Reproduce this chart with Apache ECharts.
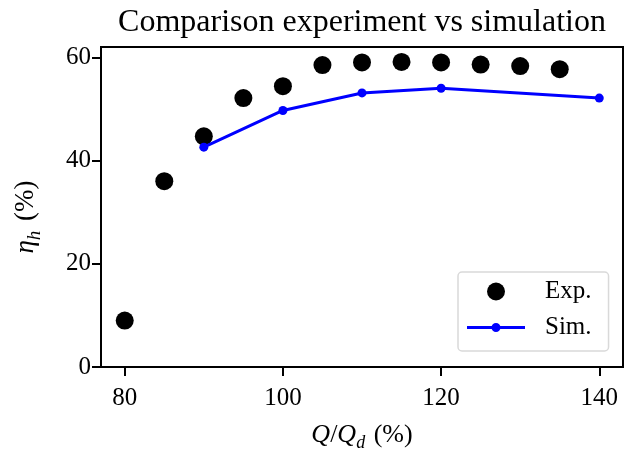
<!DOCTYPE html>
<html>
<head>
<meta charset="utf-8">
<script src="https://cdn.jsdelivr.net/npm/echarts@6/dist/echarts.min.js"></script>
<style>html,body{margin:0;padding:0;background:#fff;}#c{width:629px;height:449px;}</style>
</head>
<body>
<div id="c"></div>
<script>
var expX = [80, 85, 90, 95, 100, 105, 110, 115, 120, 125, 130, 135];
var expY = [9.0, 36.0, 44.7, 52.1, 54.4, 58.5, 59.0, 59.1, 59.0, 58.6, 58.3, 57.7];
var simX = [90, 100, 110, 120, 140];
var simY = [42.6, 49.7, 53.1, 54.0, 52.1];
var xTicks = [80, 100, 120, 140];
var yTicks = [0, 20, 40, 60];

var FONT = 'Liberation Serif';
var SIM_ICON = 'path://M0,3 L58,3 L58,6 L0,6 Z M24.5,4.5 A4.5,4.5 0 1 1 33.5,4.5 A4.5,4.5 0 1 1 24.5,4.5 Z';
var chart = echarts.init(document.getElementById('c'), null, {renderer: 'canvas'});
chart.setOption({
  animation: false,
  backgroundColor: '#fff',
  title: {
    text: 'Comparison experiment vs simulation',
    left: 357, textAlign: 'center', top: 2,
    textStyle: {fontFamily: FONT, fontSize: 32, fontWeight: 'normal', color: '#000'}
  },
  grid: {left: 101, right: 6, top: 47, bottom: 82, outerBoundsMode: 'none', containLabel: false,
         show: true, borderColor: '#000', borderWidth: 2, backgroundColor: 'transparent'},
  legend: {
    left: 458, top: 272,
    orient: 'vertical',
    padding: [7, 17, 11, 9],
    itemWidth: 58, itemHeight: 18, itemGap: 11,
    backgroundColor: '#fff',
    borderColor: '#d9d9d9', borderWidth: 1.5, borderRadius: 4,
    textStyle: {fontFamily: FONT, fontSize: 25, color: '#000', padding: [0, 0, 0, 15]},
    data: [{name: 'Exp.', icon: 'circle'}, {name: 'Sim.', icon: SIM_ICON}]
  },
  xAxis: {
    type: 'value', min: 77, max: 143,
    name: '{i|Q}{n|/}{i|Q}{s|d}{n| (%)}',
    nameLocation: 'middle', nameGap: 55,
    nameTextStyle: {
      rich: {
        i: {fontFamily: FONT, fontStyle: 'italic', fontSize: 26, color: '#000'},
        n: {fontFamily: FONT, fontSize: 26, color: '#000'},
        s: {fontFamily: FONT, fontStyle: 'italic', fontSize: 18, color: '#000', verticalAlign: 'bottom', padding: [0, 2, -4, 0]}
      }
    },
    splitLine: {show: false},
    axisLine: {lineStyle: {color: '#000', width: 2}},
    axisTick: {show: true, length: 9, lineStyle: {color: '#000', width: 2}, customValues: xTicks},
    axisLabel: {fontFamily: FONT, fontSize: 25, color: '#000', margin: 13, lineHeight: 36, customValues: xTicks}
  },
  yAxis: {
    type: 'value', min: 0, max: 62,
    name: '{i|η}{s|h}{n| (%)}',
    nameLocation: 'middle', nameGap: 62, nameRotate: 90,
    nameTextStyle: {
      padding: [0, 20, 0, 0],
      rich: {
        i: {fontFamily: FONT, fontStyle: 'italic', fontSize: 27, color: '#000'},
        n: {fontFamily: FONT, fontSize: 27, color: '#000'},
        s: {fontFamily: FONT, fontStyle: 'italic', fontSize: 19, color: '#000', verticalAlign: 'bottom', padding: [0, 3, -5, 0]}
      }
    },
    splitLine: {show: false},
    axisLine: {lineStyle: {color: '#000', width: 2}},
    axisTick: {show: true, length: 9, lineStyle: {color: '#000', width: 2}, customValues: yTicks},
    axisLabel: {fontFamily: FONT, fontSize: 25, color: '#000', margin: 10, customValues: yTicks}
  },
  series: [
    {
      name: 'Exp.', type: 'scatter',
      data: expX.map(function (x, i) { return [x, expY[i]]; }),
      symbol: 'circle', symbolSize: 18,
      itemStyle: {color: '#000', opacity: 1}
    },
    {
      name: 'Sim.', type: 'line',
      data: simX.map(function (x, i) { return [x, simY[i]]; }),
      symbol: 'circle', symbolSize: 9, showSymbol: true,
      lineStyle: {color: '#0000ff', width: 3},
      itemStyle: {color: '#0000ff', opacity: 1}
    }
  ]
});
</script>
</body>
</html>
